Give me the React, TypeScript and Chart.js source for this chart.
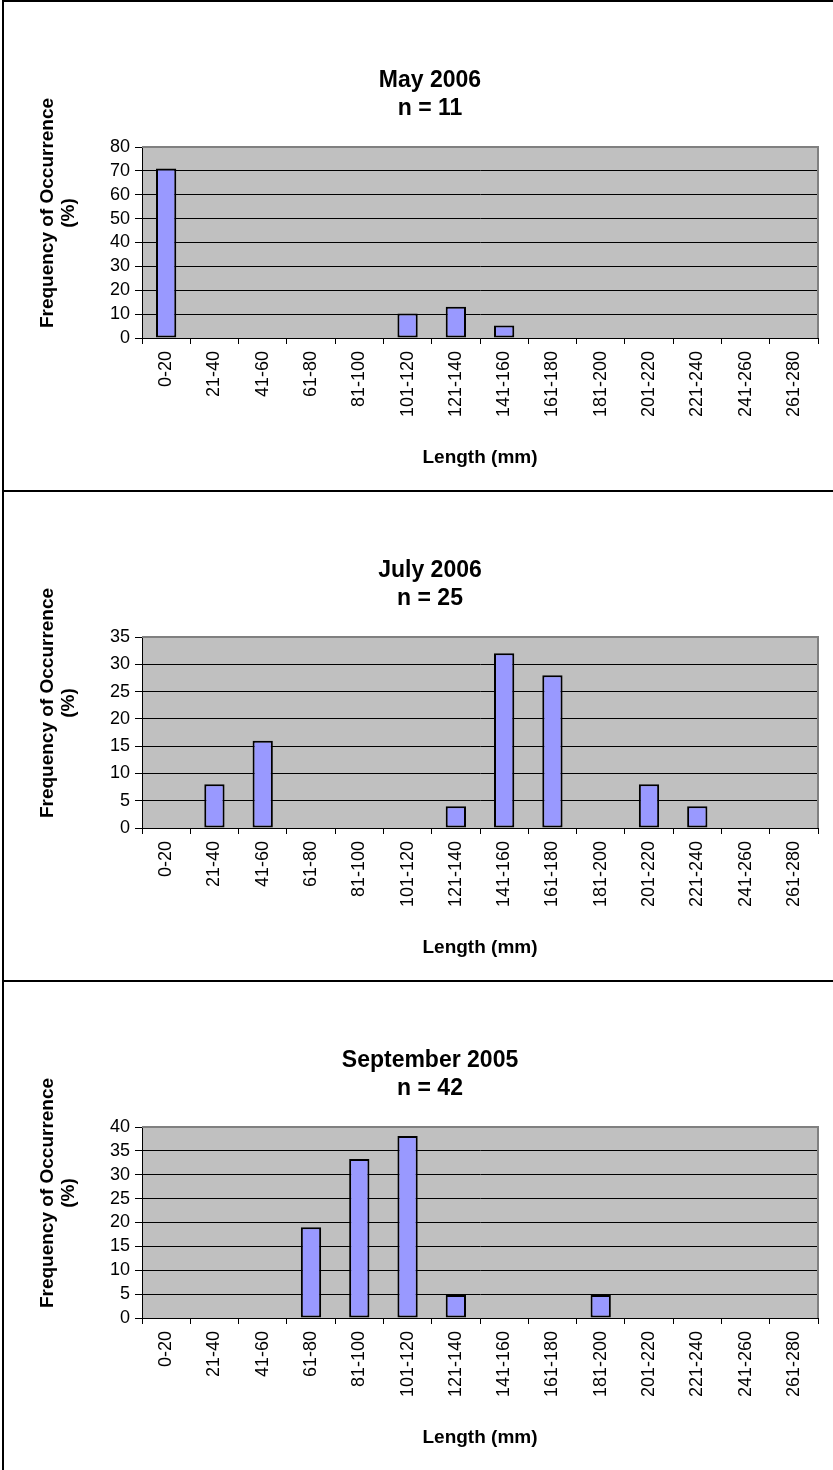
import React, { useEffect, useRef } from "react";
import { Chart, registerables } from "chart.js";

Chart.register(...registerables);

const categories = [
  "0-20", "21-40", "41-60", "61-80", "81-100", "101-120", "121-140",
  "141-160", "161-180", "181-200", "201-220", "221-240", "241-260", "261-280",
];

const may2006 = [71, 0, 0, 0, 0, 10.3, 13.1, 5.2, 0, 0, 0, 0, 0, 0];
const july2006 = [0, 8, 16, 0, 0, 0, 4, 32, 28, 0, 8, 4, 0, 0];
const sep2005 = [0, 0, 0, 19, 33.3, 38.1, 4.8, 0, 0, 4.8, 0, 0, 0, 0];

const panelTitles = ["May 2006", "July 2006", "September 2005"];
const panelN = ["n = 11", "n = 25", "n = 42"];
const panelMax = [80, 35, 40];
const panelStep = [10, 5, 5];
const panelData = [may2006, july2006, sep2005];

const yTitleLines = ["Frequency of Occurrence", "(%)"];
const xTitle = "Length (mm)";

const FONT = "'Liberation Sans', Arial, Helvetica, sans-serif";
const CW = 852;
const CH = 488;
const PAD_L = 38;
const PAD_R = CW - 814;

const plotPlugin = {
  id: "plotBg",
  beforeDraw(chart: any) {
    const { ctx, chartArea } = chart;
    ctx.save();
    ctx.fillStyle = "#C0C0C0";
    ctx.fillRect(chartArea.left, chartArea.top, chartArea.right - chartArea.left, chartArea.bottom - chartArea.top);
    ctx.restore();
  },
  afterDatasetsDraw(chart: any) {
    const { ctx, chartArea } = chart;
    ctx.save();
    ctx.strokeStyle = "#808080";
    ctx.lineWidth = 2;
    ctx.beginPath();
    ctx.moveTo(chartArea.left, chartArea.top);
    ctx.lineTo(chartArea.right, chartArea.top);
    ctx.lineTo(chartArea.right, chartArea.bottom);
    ctx.stroke();
    ctx.restore();
  },
  afterDraw(chart: any) {
    const { ctx } = chart;
    ctx.save();
    ctx.fillStyle = "#000";
    ctx.font = `bold 19px ${FONT}`;
    ctx.textAlign = "center";
    ctx.textBaseline = "middle";
    ctx.translate(44, 211);
    ctx.rotate(-Math.PI / 2);
    ctx.fillText(yTitleLines[0], 0, 0);
    ctx.fillText(yTitleLines[1], 0, 21);
    ctx.restore();
  },
};

function Panel({ idx }: { idx: number }) {
  const ref = useRef<HTMLCanvasElement>(null);
  useEffect(() => {
    if (!ref.current) return;
    const max = panelMax[idx];
    const chart = new Chart(ref.current, {
      type: "bar",
      data: {
        labels: categories,
        datasets: [
          {
            data: panelData[idx],
            backgroundColor: "#9999FF",
            borderColor: "#000000",
            borderWidth: 2,
            borderSkipped: false,
            barPercentage: 0.42,
            categoryPercentage: 1,
          },
        ],
      },
      options: {
        responsive: false,
        animation: false,
        events: [],
        layout: { padding: { top: 0, left: PAD_L, right: PAD_R, bottom: 18 } },
        plugins: {
          legend: { display: false },
          tooltip: { enabled: false },
          title: {
            display: true,
            text: [panelTitles[idx], panelN[idx]],
            color: "#000",
            font: { family: FONT, size: 23, weight: "bold", lineHeight: 28 / 23 },
            padding: { top: 65, bottom: 24 },
          },
        },
        scales: {
          x: {
            offset: true,
            grid: {
              offset: true,
              drawOnChartArea: false,
              drawTicks: true,
              tickLength: 6,
              color: "#000",
              lineWidth: 1,
            },
            border: { display: true, color: "#000", width: 1 },
            ticks: {
              autoSkip: false,
              maxRotation: 90,
              minRotation: 90,
              padding: 7,
              color: "#000",
              font: { family: FONT, size: 18 },
            },
            title: {
              display: true,
              text: xTitle,
              color: "#000",
              font: { family: FONT, size: 19, weight: "bold", lineHeight: 1.2 },
              padding: { top: 0, bottom: 3 },
            },
            afterFit(scale: any) {
              scale.height = 134;
            },
          },
          y: {
            min: 0,
            max: max,
            ticks: {
              stepSize: panelStep[idx],
              autoSkip: false,
              padding: 5,
              color: "#000",
              font: { family: FONT, size: 18 },
            },
            grid: {
              color: (c: any) => (c.tick && c.tick.value === max ? "#808080" : "#000"),
              lineWidth: 1,
              drawTicks: true,
              tickLength: 7,
              tickColor: "#000",
            },
            border: { display: true, color: "#000", width: 1 },
            afterFit(scale: any) {
              scale.width = 138 - PAD_L;
            },
          },
        },
      },
      plugins: [plotPlugin],
    } as any);
    return () => chart.destroy();
  }, [idx]);
  return (
    <canvas
      ref={ref}
      width={CW}
      height={CH}
      style={{ position: "absolute", left: 4, top: 490 * idx + 2, width: CW, height: CH, display: "block" }}
    />
  );
}

export default function App() {
  return (
    <div
      style={{
        position: "absolute",
        left: 0,
        top: 0,
        width: 833,
        height: 1470,
        overflow: "hidden",
        background: "#fff",
      }}
    >
      {[0, 1, 2].map((i) => (
        <Panel key={i} idx={i} />
      ))}
      <div style={{ position: "absolute", left: 2, top: 0, width: 2, height: 1470, background: "#000" }} />
      {[0, 490, 980].map((y) => (
        <div key={y} style={{ position: "absolute", left: 2, top: y, width: 840, height: 2, background: "#000" }} />
      ))}
    </div>
  );
}
